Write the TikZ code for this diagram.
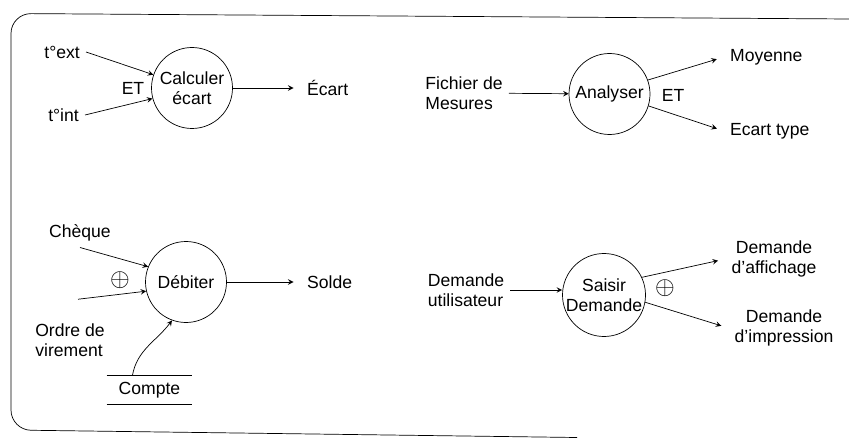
\documentclass[tikz,border=0pt]{standalone}
\usepackage{amsmath}
\usepackage{fontspec}
\setmainfont{Liberation Sans}
\usepackage{tikz}
\usetikzlibrary{shapes,arrows,calc}

\begin{document}
\begin{tikzpicture}[>=stealth, font=\fontsize{10}{11.5}\selectfont,
  process/.style={draw, circle, minimum size=1.62cm, inner sep=0pt, align=center},
  flowout/.style={->, shorten >=1.5mm}]
  %coordinates
  \useasboundingbox (0,0) rectangle (16.98,-8.78);
  \coordinate (topright) at (16.98,-0.38);
  \coordinate (bottomright) at (11.54,-8.75);
  % Frame
  \draw[rounded corners=0.4cm] (topright) -- (0.22,-0.27) -- (0.22,-8.6) -- (bottomright);
  % Nodes
  \node[process](calc) at (3.84,-1.76) {Calculer\\écart};
  \node[process](analyser) at (12.19,-1.88) {Analyser};
  \node[process](debiter) at (3.72,-5.64) {Débiter};
  \node[process](saisir) at (12.08,-5.9) {Saisir\\Demande};
  \node[anchor=east](ext) at (1.72,-1.04) {t°ext};
  \node[anchor=east](int) at (1.7,-2.3) {t°int};
  \node(et1) at (2.66,-1.76) {ET};
  \node[anchor=west](ecart) at (6.02,-1.76) {Écart};
  \node[align=left](fichier) at (9.28,-1.86) {Fichier de\\Mesures};
  \node[anchor=west](moyenne) at (14.48,-1.14) {Moyenne};
  \node[anchor=west](ecarttype) at (14.48,-2.62) {Ecart type};
  \node(et2) at (13.46,-1.9) {ET};
  \node(cheque) at (1.6,-4.66) {Chèque};
  \node(ou1) at (2.4,-5.6) {\Large$\oplus$};
  \node[align=left](ordre) at (1.4,-6.8) {Ordre de\\virement};
  \node[anchor=west](solde) at (6.02,-5.64) {Solde};
  \node[minimum width=1.7cm, minimum height=0.52cm](compte) at (2.99,-7.8) {Compte};
  \node[align=left](util) at (9.32,-5.8) {Demande\\utilisateur};
  \node(ou2) at (13.3,-5.76) {\Large$\oplus$};
  \node[align=center](affichage) at (15.48,-5.18) {Demande\\d'affichage};
  \node[align=center](impression) at (15.68,-6.56) {Demande\\d'impression};
  % Edges
  \draw[->](ext.east)--(calc.161);
  \draw[->](int.east)--(calc.195);
  \draw[flowout](calc)--(ecart);
  \draw[->](fichier)--(analyser);
  \draw[flowout](analyser.20)--(moyenne.west);
  \draw[flowout](analyser.-17)--(ecarttype.west);
  \draw[->](cheque.south)--(debiter.158);
  \draw[->]($(ordre.north)+(0.16,0.36)$)--(debiter.193);
  \draw[flowout](debiter)--(solde);
  \draw(compte.north west)--(compte.north east);
  \draw(compte.south west)--(compte.south east);
  \draw[->]($(compte.north west)!0.3!(compte.north east)$) to[out=80,in=-127] (debiter.-110);
  \draw[->](util.east)--(util.east -| saisir.west);
  \draw[flowout](saisir.25)--(affichage.west);
  \draw[flowout](saisir.-10)--(impression.west);
\end{tikzpicture}
\end{document}
